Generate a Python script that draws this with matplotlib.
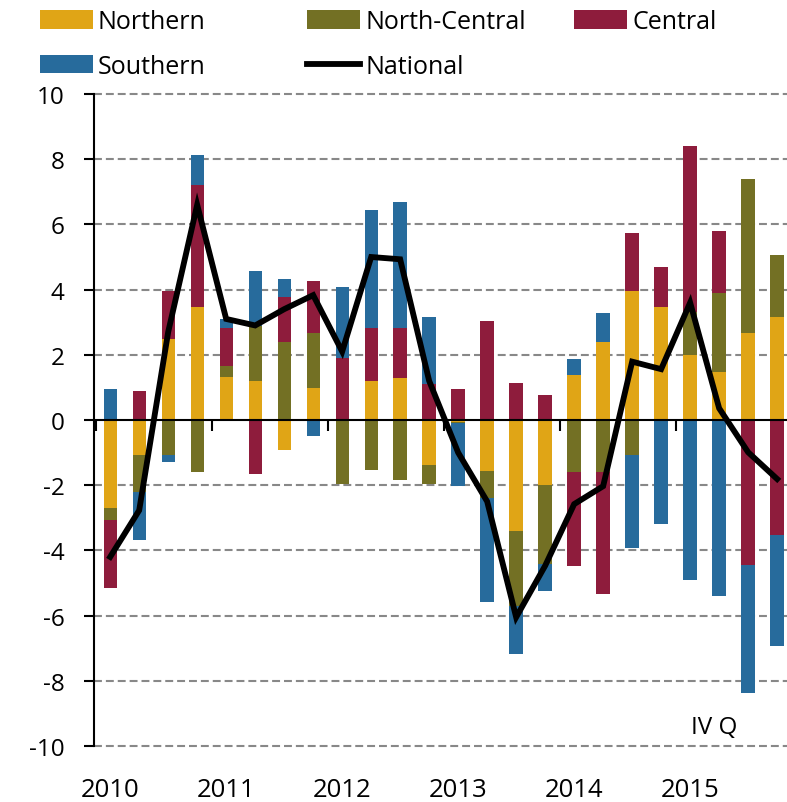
import numpy as np
import matplotlib.pyplot as plt
import matplotlib.ticker as mticker

plt.rcParams['font.family'] = ['Open Sans', 'DejaVu Sans']
plt.rcParams['axes.unicode_minus'] = False

# quarterly contributions, 2010 Q1 .. 2015 Q4
years = ['2010', '2011', '2012', '2013', '2014', '2015']
northern = [-2.70, -1.06, 2.50, 3.48, 1.33, 1.21, -0.92, 0.97,
            0.00, 1.21, 1.28, -1.37, -0.07, -1.55, -3.39, -1.98,
            1.39, 2.38, 3.97, 3.48, 2.00, 1.46, 2.67, 3.17]
north_central = [-0.37, -1.16, -1.06, -1.60, 0.32, 1.66, 2.38, 1.71,
                 -1.96, -1.52, -1.83, -0.59, -0.03, -0.85, -2.31, -2.44,
                 -1.60, -1.60, -1.06, 0.00, 1.30, 2.44, 4.72, 1.89]
central = [-2.08, 0.90, 1.47, 3.73, 1.16, -1.66, 1.40, 1.58,
           1.89, 1.60, 1.53, 1.10, 0.95, 3.04, 1.13, 0.78,
           -2.87, -3.74, 1.77, 1.20, 5.11, 1.89, -4.44, -3.52]
southern = [0.95, -1.46, -0.24, 0.91, 0.29, 1.69, 0.54, -0.50,
            2.18, 3.64, 3.89, 2.06, -1.91, -3.17, -1.48, -0.83,
            0.48, 0.90, -2.87, -3.19, -4.91, -5.39, -3.94, -3.40]
national = [-4.20, -2.77, 2.70, 6.60, 3.10, 2.90, 3.40, 3.83,
            2.10, 5.00, 4.93, 1.20, -1.00, -2.50, -6.05, -4.47,
            -2.58, -2.03, 1.79, 1.56, 3.60, 0.36, -0.99, -1.81]

series = [('Northern', northern, '#E0A516'),
          ('North-Central', north_central, '#737024'),
          ('Central', central, '#8E1C3C'),
          ('Southern', southern, '#276B9C')]

x = np.arange(len(national))

fig = plt.figure(figsize=(7.87, 8.03), dpi=100)
ax = fig.add_axes([94.3 / 787, 56 / 803, (787 - 94.3) / 787, 652 / 803])

pos_base = np.zeros(len(x))
neg_base = np.zeros(len(x))
handles = {}
for name, vals, col in series:
    v = np.array(vals)
    pos = np.where(v > 0, v, 0)
    neg = np.where(v < 0, v, 0)
    b = ax.bar(x, pos, 0.46, bottom=pos_base, color=col, linewidth=0, zorder=2, label=name)
    ax.bar(x, neg, 0.46, bottom=neg_base, color=col, linewidth=0, zorder=2)
    pos_base += pos
    neg_base += neg
    handles[name] = b

ln, = ax.plot(x, national, color='black', lw=4.2, solid_joinstyle='miter', zorder=4, label='National')
handles['National'] = ln

ax.set_xlim(-0.548, 23.34)
ax.set_ylim(-10, 10)
ax.yaxis.set_major_locator(mticker.MultipleLocator(2))
for yv in np.arange(-10, 11, 2):
    if yv != 0:
        ax.axhline(yv, color='#888888', lw=1.5, ls=(0, (3.8, 1.9)), zorder=1, clip_on=False)

for s in ['top', 'right']:
    ax.spines[s].set_visible(False)
ax.spines['left'].set_linewidth(1.5)
ax.spines['bottom'].set_position(('data', 0))
ax.spines['bottom'].set_linewidth(1.5)
ax.spines['bottom'].set_zorder(3)

ax.set_xticks(np.arange(-0.5, 23.5, 4))
ax.tick_params(axis='x', direction='out', length=8, width=1.5, labelbottom=False)
ax.tick_params(axis='y', direction='out', length=7.5, width=1.5, pad=14, labelsize=17.5)

for i, yr in enumerate(years):
    ax.text(i * 4, -0.066, yr, transform=ax.get_xaxis_transform(), ha='center', va='center', fontsize=18.5)

ax.text(20.82, -9.42, 'IV Q', ha='center', va='center', fontsize=17.5)

leg_kw = dict(frameon=False, fontsize=18, handlelength=2.12, handleheight=0.76, handletextpad=0.2,
              labelspacing=0.78, borderpad=0, borderaxespad=0, loc='upper left',
              bbox_transform=fig.transFigure)
cols = [(['Northern', 'Southern'], 40), (['North-Central', 'National'], 307), (['Central'], 574)]
for names, px in cols:
    leg = fig.legend([handles[n] for n in names], names, bbox_to_anchor=(px / 787, 1 - 10 / 803), **leg_kw)

plt.savefig('out.png', dpi=100)
